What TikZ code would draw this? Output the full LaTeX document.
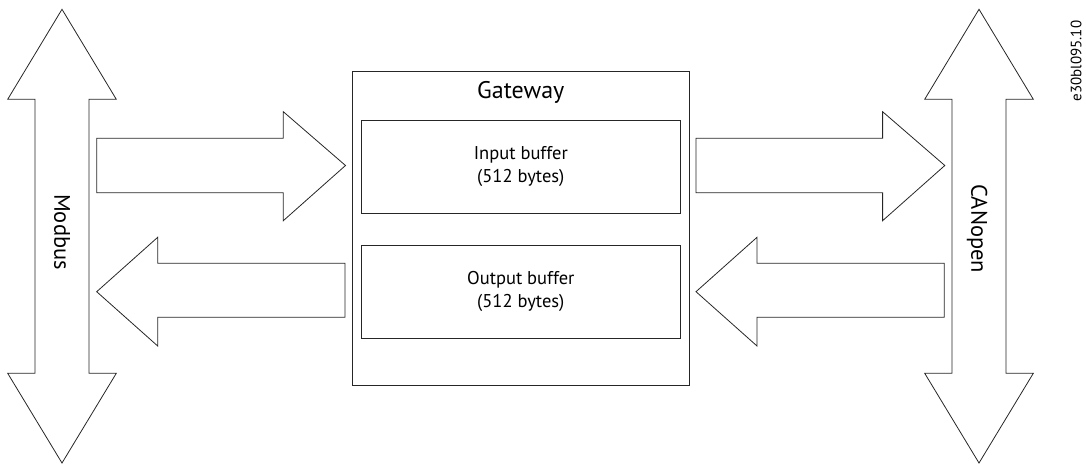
\documentclass[tikz,border=0pt]{standalone}
\usepackage{fontspec}
\setmainfont{PT Sans}
\tikzset{
  shape line/.style={draw=black!85, line width=0.8pt, line join=miter},
  bufferbox/.style={shape line, rectangle, minimum width=319.7pt, minimum height=93.3pt,
    align=center, font=\fontsize{18.5}{23.3}\selectfont},
  bus label/.style={rotate=-90, font=\fontsize{22.5}{26}\selectfont}
}
\begin{document}
\begin{tikzpicture}[x=1pt, y=-1pt]
  \useasboundingbox (0,0) rectangle (1086,465);
  % gateway with its two buffers
  \node[shape line, minimum width=337pt, minimum height=313.3pt] (gateway) at (520.8,228.3) {};
  \node[font=\fontsize{24}{28}\selectfont] (gwlabel) at (520.8,92) {Gateway};
  \node[bufferbox] (inbuf) at (520.8,166.7) {Input buffer\\(512 bytes)};
  \node[bufferbox] (outbuf) at (520.8,291.7) {Output buffer\\(512 bytes)};
  % bus arrows
  \foreach \cx in {62,979}
    \draw[shape line] (\cx,9.3) -- (\cx+54.3,99.3) -- (\cx+27,99.3) -- (\cx+27,373.3)
      -- (\cx+54.3,373.3) -- (\cx,463) -- (\cx-54.3,373.3) -- (\cx-27,373.3)
      -- (\cx-27,99.3) -- (\cx-54.3,99.3) -- cycle;
  \node[bus label] (modbus) at (62,232) {Modbus};
  \node[bus label] (canopen) at (977,229) {CANopen};
  % data flow arrows
  \foreach \dx in {0,599.3} {
    \draw[shape line] (96.7+\dx,138.3) -- (283.3+\dx,138.3) -- (283.3+\dx,111.7)
      -- (345.5+\dx,165.5) -- (283.3+\dx,220.7) -- (283.3+\dx,192.7) -- (96.7+\dx,192.7) -- cycle;
    \draw[shape line] (345+\dx,263.3) -- (157.7+\dx,263.3) -- (157.7+\dx,237.3)
      -- (96.7+\dx,291.7) -- (157.7+\dx,346) -- (157.7+\dx,317.3) -- (345+\dx,317.3) -- cycle;
  }
  \node[rotate=90, font=\fontsize{15}{17}\selectfont] (figid) at (1076,61) {e30bl095.10};
\end{tikzpicture}
\end{document}
